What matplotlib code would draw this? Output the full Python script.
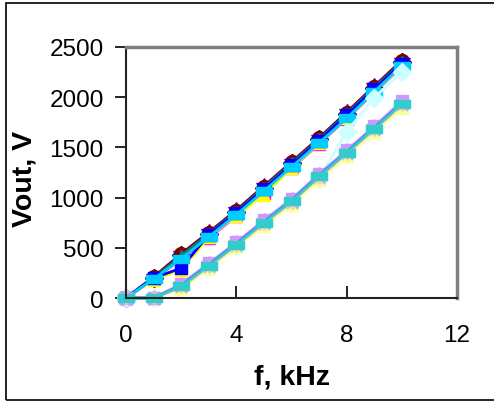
import matplotlib
matplotlib.use("Agg")
import matplotlib.pyplot as plt
from matplotlib.patches import Rectangle

plt.rcParams['font.family'] = ['Liberation Sans', 'DejaVu Sans']

f_khz = [0, 1, 2, 3, 4, 5, 6, 7, 8, 9, 10]

# Upper group of curves
s_navy     = [0, 200, 425, 640, 860, 1100, 1340, 1580, 1835, 2095, 2350]
s_magenta  = [0, 185, 390, 595, 815, 1050, 1290, 1535, 1785, 2045, 2305]
s_yellow   = [0, 180, 280, 605, 820, 1025, 1295, 1540, 1790, 2050, 2310]
s_cyan     = [0, 195, 410, 625, 845, 1085, 1325, 1565, 1815, 2075, 2335]
s_purple   = [0, 210, 440, 655, 875, 1115, 1355, 1595, 1850, 2110, 2365]
s_darkred  = [0, 205, 435, 650, 870, 1110, 1350, 1590, 1845, 2105, 2360]
s_teal     = [0, 200, 420, 640, 860, 1100, 1340, 1580, 1835, 2095, 2350]
s_blue     = [0, 198, 298, 630, 850, 1085, 1325, 1568, 1820, 2080, 2335]
s_skyblue  = [0, 190, 390, 610, 830, 1065, 1305, 1545, 1790, 2055, 2315]
s_lightcyan = [0, 0, 110, 310, 520, 740, 950, 1190, 1655, 1995, 2250]

# Lower group of curves
s_lightgreen = [0, 0, 95, 300, 510, 725, 935, 1185, 1415, 1655, 1900]
s_lightyellow = [0, 0, 90, 295, 505, 720, 930, 1180, 1410, 1650, 1895]
s_paleblue   = [0, 0, 115, 320, 530, 750, 960, 1210, 1445, 1685, 1930]
s_rose       = [0, 0, 130, 335, 545, 765, 975, 1225, 1460, 1700, 1945]
s_lavender   = [0, 0, 140, 345, 555, 775, 985, 1235, 1470, 1710, 1960]
s_tan        = [0, 0, 105, 310, 520, 740, 950, 1200, 1435, 1675, 1920]
s_royalblue  = [0, 0, 125, 330, 540, 760, 970, 1220, 1455, 1695, 1940]
s_aqua       = [0, 0, 118, 322, 532, 752, 962, 1212, 1447, 1687, 1932]

wide_rect = [(-1, -0.5), (1, -0.5), (1, 0.5), (-1, 0.5), (-1, -0.5)]

series = [
    (s_navy, '#000080', 'D'),
    (s_magenta, '#FF00FF', 's'),
    (s_yellow, '#FFFF00', '^'),
    (s_cyan, '#00FFFF', 'x'),
    (s_purple, '#800080', '*'),
    (s_darkred, '#800000', 'o'),
    (s_teal, '#008080', '|'),
    (s_blue, '#0000FF', 's'),
    (s_skyblue, '#00CCFF', 'rect'),
    (s_lightcyan, '#CCFFFF', 'D'),
    (s_lightgreen, '#CCFFCC', '^'),
    (s_lightyellow, '#FFFF99', '^'),
    (s_paleblue, '#99CCFF', 'x'),
    (s_rose, '#FF99CC', '*'),
    (s_lavender, '#CC99FF', 's'),
    (s_tan, '#FFCC99', '+'),
    (s_royalblue, '#3366FF', '_'),
    (s_aqua, '#33CCCC', 'rect'),
]

fig = plt.figure(figsize=(4.94, 4.02), dpi=100)
fig.patch.set_facecolor('white')
ax = fig.add_axes([0.2551, 0.2562, 0.670, 0.6244])

for vals, col, mk in series:
    ms = 9
    mew = 1
    if mk in ('x', '+', '|', '_'):
        mew = 2.5
        ms = 9
    if mk == '*':
        ms = 12
    if mk == 'o':
        ms = 10
    if mk == 'rect':
        mk = wide_rect
        ms = 11
    ax.plot(f_khz, vals, color=col, marker=mk, markersize=ms,
            markeredgewidth=mew, markerfacecolor=col, markeredgecolor=col,
            linewidth=2, clip_on=False)

ax.set_xlim(0, 12)
ax.set_ylim(0, 2500)
ax.set_xticks([0, 4, 8, 12])
ax.set_yticks([0, 500, 1000, 1500, 2000, 2500])

ax.tick_params(axis='x', direction='in', length=9, width=1.2, pad=19,
               labelsize=17.5, colors='black')
ax.tick_params(axis='y', direction='out', length=8, width=1.2, pad=8,
               labelsize=17.5, colors='black')

for side in ('left', 'bottom'):
    ax.spines[side].set_color('#222222')
    ax.spines[side].set_linewidth(1.5)
for side in ('top', 'right'):
    ax.spines[side].set_color('#808080')
    ax.spines[side].set_linewidth(2.5)

ax.set_xlabel('f, kHz', fontsize=20.5, fontweight='bold')
ax.set_ylabel('Vout, V', fontsize=20.5, fontweight='bold')
ax.xaxis.label.set_va('center')
ax.yaxis.label.set_va('center')
ax.xaxis.set_label_coords(0.5, -0.313)
ax.yaxis.set_label_coords(-0.308, 0.48)

# outer chart border
fig.patches.append(Rectangle((6 / 494, 1.5 / 402), 1.2, (402 - 4 - 1.5) / 402,
                             transform=fig.transFigure, fill=False,
                             edgecolor='black', linewidth=1.2))

fig.savefig('out.png', dpi=100)
